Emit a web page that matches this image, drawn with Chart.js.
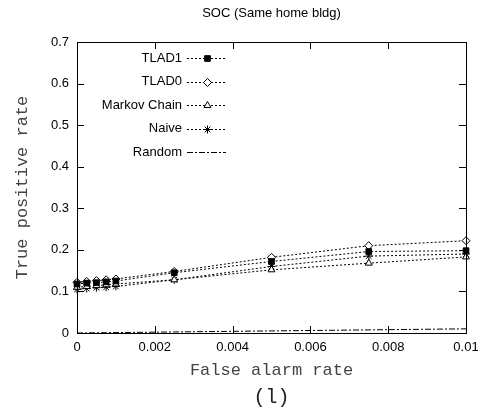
<!DOCTYPE html>
<html>
<head>
<meta charset="utf-8">
<script src="https://cdn.jsdelivr.net/npm/chart.js@4/dist/chart.umd.min.js"></script>
<style>
    html, body { margin: 0; padding: 0; background: #fff; }
    #wrap { width: 500px; height: 409px; }
</style>
</head>
<body>
<div id="wrap"><canvas id="roc" width="500" height="409"></canvas></div>
<script>
const falseAlarm = [0, 0.00025, 0.0005, 0.00075, 0.001, 0.0025, 0.005, 0.0075, 0.01];
const tlad1 = [0.118, 0.12, 0.121, 0.123, 0.125, 0.145, 0.172, 0.196, 0.198];
const tlad0 = [0.122, 0.124, 0.126, 0.128, 0.13, 0.148, 0.182, 0.21, 0.222];
const markov = [0.11, 0.112, 0.114, 0.116, 0.118, 0.128, 0.152, 0.168, 0.183];
const naive = [0.105, 0.107, 0.109, 0.11, 0.112, 0.128, 0.16, 0.185, 0.19];
const random = [0, 0.00025, 0.0005, 0.00075, 0.001, 0.0025, 0.005, 0.0075, 0.01];
const xTicks = [0, 0.002, 0.004, 0.006, 0.008, 0.01];
const yTicks = [0, 0.1, 0.2, 0.3, 0.4, 0.5, 0.6, 0.7];

const sansFont = '"Liberation Sans", Arial, sans-serif';
const monoFont = '"Liberation Mono", "DejaVu Sans Mono", monospace';

function points(values) {
    return values.map((v, i) => ({ x: falseAlarm[i], y: v }));
}

function series(label, values, style, filled, dash) {
    return {
        label: label,
        data: points(values),
        borderColor: '#000',
        borderWidth: 1,
        borderDash: dash,
        pointStyle: style,
        pointRadius: style ? 4 : 0,
        pointBorderColor: '#000',
        pointBorderWidth: 1,
        pointBackgroundColor: filled ? '#000' : '#fff',
        fill: false,
        tension: 0,
        clip: false
    };
}

// frame, inward ticks, legend and the extra texts, gnuplot style
const decor = {
    id: 'decor',
    afterDraw(chart) {
        const ctx = chart.ctx;
        const area = chart.chartArea;
        const xs = chart.scales.x;
        const ys = chart.scales.y;
        const tickLen = 7;
        ctx.save();
        ctx.strokeStyle = '#000';
        ctx.lineWidth = 1;
        ctx.setLineDash([]);
        ctx.strokeRect(Math.round(area.left) + 0.5, Math.round(area.top) + 0.5,
            Math.round(area.right - area.left), Math.round(area.bottom - area.top));
        ctx.beginPath();
        xTicks.forEach((t) => {
            const px = Math.round(xs.getPixelForValue(t)) + 0.5;
            ctx.moveTo(px, area.bottom); ctx.lineTo(px, area.bottom - tickLen);
            ctx.moveTo(px, area.top); ctx.lineTo(px, area.top + tickLen);
        });
        yTicks.forEach((t) => {
            const py = Math.round(ys.getPixelForValue(t)) + 0.5;
            ctx.moveTo(area.left, py); ctx.lineTo(area.left + tickLen, py);
            ctx.moveTo(area.right, py); ctx.lineTo(area.right - tickLen, py);
        });
        ctx.stroke();

        const cx = (area.left + area.right) / 2;
        ctx.fillStyle = '#000';
        ctx.textAlign = 'center';
        ctx.textBaseline = 'middle';
        ctx.font = '13px ' + sansFont;
        ctx.fillText('SOC (Same home bldg)', cx, 13);
        ctx.fillStyle = '#222';
        ctx.font = '20px ' + monoFont;
        ctx.fillText('(l)', cx, 398);

        // legend
        const textRight = 182;
        const lineStart = 187;
        const lineEnd = 226;
        chart.data.datasets.forEach((ds, i) => {
            const y = 58 + i * 23.5;
            ctx.fillStyle = '#000';
            ctx.font = '13px ' + sansFont;
            ctx.textAlign = 'right';
            ctx.fillText(ds.label, textRight, y);
            ctx.beginPath();
            ctx.setLineDash(ds.borderDash);
            ctx.moveTo(lineStart, Math.round(y) + 0.5);
            ctx.lineTo(lineEnd, Math.round(y) + 0.5);
            ctx.stroke();
            ctx.setLineDash([]);
            if (ds.pointStyle) {
                ctx.fillStyle = ds.pointBackgroundColor;
                ctx.strokeStyle = '#000';
                Chart.helpers.drawPoint(ctx, {
                    pointStyle: ds.pointStyle,
                    radius: ds.pointRadius,
                    rotation: 0,
                    borderWidth: 1
                }, (lineStart + lineEnd) / 2 + 1, Math.round(y) + 0.5);
            }
        });
        ctx.restore();
    }
};

new Chart(document.getElementById('roc'), {
    type: 'line',
    data: {
        datasets: [
            series('TLAD1', tlad1, 'rect', true, [2, 2]),
            series('TLAD0', tlad0, 'rectRot', false, [2, 2]),
            series('Markov Chain', markov, 'triangle', false, [2, 2]),
            series('Naive', naive, 'star', false, [2, 2]),
            series('Random', random, false, false, [6, 2, 2, 2])
        ]
    },
    options: {
        responsive: false,
        animation: false,
        layout: { padding: { top: 42, right: 34, left: 0, bottom: 0 } },
        plugins: {
            legend: { display: false },
            tooltip: { enabled: false },
            title: { display: false }
        },
        scales: {
            x: {
                type: 'linear',
                min: 0,
                max: 0.01,
                afterFit: (scale) => { scale.height = 76; },
                afterBuildTicks: (scale) => { scale.ticks = xTicks.map((v) => ({ value: v })); },
                grid: { display: false, drawTicks: false },
                border: { display: false },
                ticks: {
                    padding: 7,
                    maxRotation: 0,
                    color: '#000',
                    font: { family: sansFont, size: 13 },
                    callback: (v) => String(+v.toFixed(3))
                },
                title: {
                    display: true,
                    text: 'False alarm rate',
                    color: '#444',
                    font: { family: monoFont, size: 17 },
                    padding: { top: 0, bottom: 28 }
                }
            },
            y: {
                type: 'linear',
                min: 0,
                max: 0.7,
                afterFit: (scale) => { scale.width = 77; },
                afterBuildTicks: (scale) => { scale.ticks = yTicks.map((v) => ({ value: v })); },
                grid: { display: false, drawTicks: false },
                border: { display: false },
                ticks: {
                    padding: 8,
                    color: '#000',
                    font: { family: sansFont, size: 13 },
                    callback: (v) => String(+v.toFixed(1))
                },
                title: {
                    display: true,
                    text: 'True positive rate',
                    color: '#444',
                    font: { family: monoFont, size: 17 },
                    padding: { top: 12, bottom: 0 }
                }
            }
        }
    },
    plugins: [decor]
});
</script>
</body>
</html>
